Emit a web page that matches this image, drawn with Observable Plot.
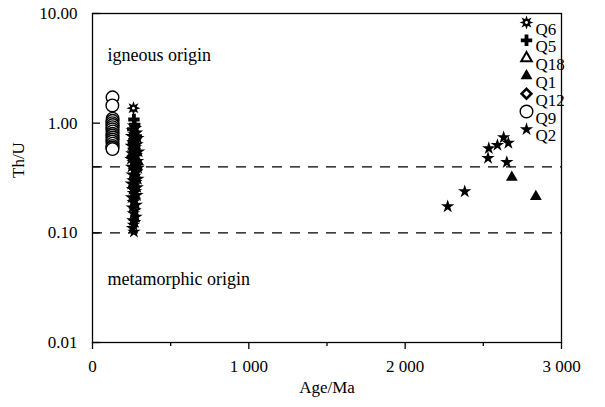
<!DOCTYPE html>
<html><head><meta charset="utf-8">
<script src="https://cdn.jsdelivr.net/npm/d3@7"></script>
<script src="https://cdn.jsdelivr.net/npm/@observablehq/plot@0.6"></script>
<style>html,body{margin:0;padding:0;background:#fff}#chart svg{display:block}</style>
</head><body><div id="chart"></div>
<script>
// ---- data ----
const seriesNames = ["Q6", "Q5", "Q18", "Q1", "Q12", "Q9", "Q2"];

const q6Age = [262];
const q6ThU = [1.37];

const q5Age = [265, 270, 258, 280, 262, 275];
const q5ThU = [1.08, 0.97, 0.88, 0.76, 0.66, 0.52];

const q18Age = [268, 285];
const q18ThU = [0.58, 0.45];

const q1Age = [2682, 2836];
const q1ThU = [0.32, 0.214];

const q12Age = [272, 258, 280];
const q12ThU = [0.72, 0.50, 0.38];

const q9Age = [128, 127, 129, 128, 127, 129, 128, 127, 129, 128, 127, 129, 128, 127, 129, 128, 127, 128];
const q9ThU = [1.72, 1.45, 1.10, 1.05, 1.00, 0.96, 0.92, 0.88, 0.84, 0.80, 0.77, 0.74, 0.71, 0.68, 0.65, 0.62, 0.60, 0.58];

const q2Age = [262, 275, 255, 282, 266, 250, 290, 270, 258, 285, 248, 275, 262, 295, 252, 280, 268, 246, 288, 260,
               276, 250, 292, 266, 282, 254, 272, 290, 258, 278, 248, 268, 286, 256, 275, 262, 284, 250, 270, 260,
               280, 255, 272, 262, 278, 258, 270, 262, 256, 265,
               2272, 2381, 2530, 2535, 2590, 2630, 2660, 2650];
const q2ThU = [0.95, 0.90, 0.86, 0.82, 0.79, 0.76, 0.73, 0.70, 0.67, 0.64, 0.62, 0.60, 0.57, 0.55, 0.53, 0.51, 0.49, 0.47, 0.45, 0.44,
               0.42, 0.40, 0.39, 0.37, 0.36, 0.34, 0.33, 0.31, 0.30, 0.29, 0.28, 0.27, 0.26, 0.25, 0.24, 0.23, 0.22, 0.21, 0.20, 0.19,
               0.18, 0.17, 0.16, 0.15, 0.14, 0.13, 0.125, 0.118, 0.11, 0.102,
               0.174, 0.238, 0.48, 0.59, 0.63, 0.74, 0.66, 0.44];

const xTicks = [0, 1000, 2000, 3000];
const xTickLabels = ["0", "1 000", "2 000", "3 000"];
const xMinorTicks = [500, 1500, 2500];
const yTicks = [10, 1, 0.4, 0.1, 0.01];
const yTickLabels = ["10.00", "1.00", "0.40", "0.10", "0.01"];
const boundaryLines = [0.4, 0.1];
const xTitle = "Age/Ma";
const yTitle = "Th/U";
const upperNote = "igneous origin";
const lowerNote = "metamorphic origin";

// ---- build tables ----
const rows = (ages, vals) => ages.map((a, i) => ({age: a, thu: vals[i]}));
const data = {
  Q6: rows(q6Age, q6ThU), Q5: rows(q5Age, q5ThU), Q18: rows(q18Age, q18ThU),
  Q1: rows(q1Age, q1ThU), Q12: rows(q12Age, q12ThU), Q9: rows(q9Age, q9ThU), Q2: rows(q2Age, q2ThU)
};

// custom burst symbol for Q6
const burst = {
  draw(ctx, size) {
    const R = Math.sqrt(size / Math.PI);
    const n = 8;
    for (let i = 0; i < 2 * n; i++) {
      const a = i * Math.PI / n - Math.PI / 2;
      const rr = i % 2 ? R * 0.5 : R;
      const x = rr * Math.cos(a), y = rr * Math.sin(a);
      if (i === 0) ctx.moveTo(x, y); else ctx.lineTo(x, y);
    }
    ctx.closePath();
  }
};

const styles = {
  Q6:  {symbol: burst, r: 7, fill: "black", stroke: "none"},
  Q5:  {symbol: "cross", r: 4.8, fill: "black", stroke: "none"},
  Q18: {symbol: "triangle", r: 3.9, fill: "white", stroke: "black", strokeWidth: 2},
  Q1:  {symbol: "triangle", r: 4.4, fill: "black", stroke: "none"},
  Q12: {symbol: "diamond2", r: 4.4, fill: "white", stroke: "black", strokeWidth: 2.6},
  Q9:  {symbol: "circle", r: 6.3, fill: "white", stroke: "black", strokeWidth: 1.4},
  Q2:  {symbol: "star", r: 4.2, fill: "black", stroke: "none"}
};

const drawOrder = ["Q9", "Q18", "Q12", "Q5", "Q1", "Q2", "Q6"];
const font = "Liberation Serif, Times New Roman, serif";

const marks = [
  Plot.ruleY(boundaryLines, {stroke: "black", strokeWidth: 1.2, strokeDasharray: "10,8"}),
  ...drawOrder.map(k => Plot.dot(data[k], {x: "age", y: "thu", ...styles[k]})),
  Plot.dot(data.Q6, {x: "age", y: "thu", r: 1.4, fill: "white"}),
  Plot.frame({stroke: "black", strokeWidth: 1.3}),
  Plot.axisX(xTicks, {tickSize: 7, tickPadding: 10, strokeWidth: 1.3, tickFormat: d => xTickLabels[xTicks.indexOf(d)], label: null, fontSize: 17, fontFamily: font}),
  Plot.axisX(xMinorTicks, {tickSize: 4, strokeWidth: 1.3, tickFormat: () => "", label: null}),
  Plot.axisY(yTicks, {tickSize: -8, tickPadding: 23, strokeWidth: 1.3, tickFormat: d => yTickLabels[yTicks.indexOf(d)], label: null, fontSize: 17, fontFamily: font}),
  Plot.text([xTitle], {frameAnchor: "bottom", dy: 50, text: d => d, fontSize: 17, fontFamily: font, fill: "black"}),
  Plot.text([yTitle], {frameAnchor: "left", dx: -74, rotate: -90, text: d => d, fontSize: 17, fontFamily: font, fill: "black"}),
  Plot.text([upperNote], {frameAnchor: "top-left", dx: 15, dy: 35, textAnchor: "start", text: d => d, fontSize: 18, fontFamily: font, fill: "black"}),
  Plot.text([lowerNote], {frameAnchor: "bottom-left", dx: 15, dy: -58, textAnchor: "start", text: d => d, fontSize: 18, fontFamily: font, fill: "black"}),
  // legend
  ...seriesNames.map((k, i) => Plot.dot([k], {frameAnchor: "top-right", dx: -35, dy: 9 + 17.8 * i, ...styles[k]})),
  Plot.dot(["Q6"], {frameAnchor: "top-right", dx: -35, dy: 9, r: 1.4, fill: "white"}),
  ...seriesNames.map((k, i) => Plot.text([k], {frameAnchor: "top-right", dx: -26, dy: 9 + 17.8 * i, textAnchor: "start", text: d => d, fontSize: 17, fontFamily: font, fill: "black"}))
];

const chart = Plot.plot({
  width: 605,
  height: 407,
  marginLeft: 92,
  marginRight: 44,
  marginTop: 13,
  marginBottom: 65,
  style: {fontFamily: font, fontSize: "17px", color: "black", background: "white"},
  x: {domain: [0, 3000]},
  y: {type: "log", domain: [0.01, 10]},
  marks
});
document.getElementById("chart").appendChild(chart);
</script>
</body></html>
